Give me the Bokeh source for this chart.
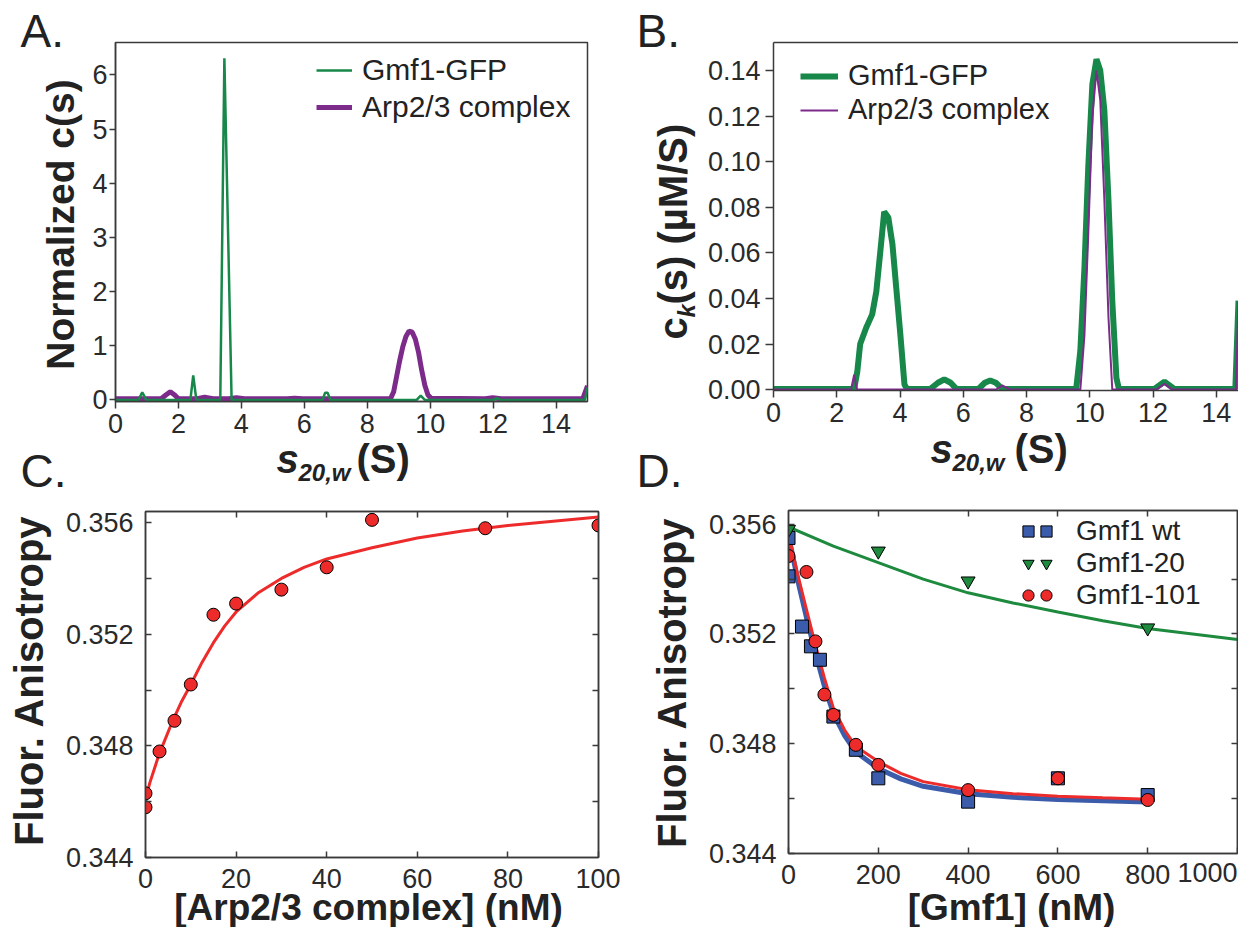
from math import pi
from bokeh.plotting import figure
from bokeh.layouts import row, column
from bokeh.models import (Range1d, LinearAxis, FixedTicker, PrintfTickFormatter,
                          CustomJSTickFormatter, Legend, LegendItem, GridBox)
from bokeh.core.properties import value
from bokeh.embed import file_html
from bokeh.resources import INLINE

# ---------------- data ----------------
# Panel A: normalized c(s)
a_gfp_s = [0, 0.73, 0.85, 0.98, 2.38, 2.47, 2.57, 3.33, 3.46, 3.69, 6.58, 6.66, 6.74, 6.83,
           9.57, 9.70, 9.83, 12.0, 12.12, 12.24, 14.92, 15.0]
a_gfp_c = [0, 0, 0.14, 0, 0, 0.45, 0, 0, 6.31, 0, 0, 0.13, 0.13, 0,
           0, 0.08, 0, 0, 0.03, 0, 0, 0.23]
a_arp_s = [0, 1.45, 1.6, 1.74, 1.88, 2.0, 2.6, 2.83, 3.1, 3.6, 3.84, 4.1, 5.45, 5.69, 5.95,
           8.74, 8.84, 8.93, 9.03, 9.13, 9.23, 9.33, 9.43, 9.53, 9.63, 9.73, 9.83, 9.93, 10.03,
           11.75, 11.99, 12.25, 14.85, 15.0]
a_arp_c = [0.02, 0.02, 0.09, 0.15, 0.09, 0.02, 0.02, 0.05, 0.02, 0.02, 0.04, 0.02, 0.02, 0.03, 0.02,
           0.02, 0.15, 0.42, 0.72, 0.98, 1.17, 1.27, 1.25, 1.12, 0.88, 0.55, 0.27, 0.09, 0.03,
           0.02, 0.04, 0.02, 0.02, 0.26]

# Panel B: ck(s)
b_gfp_s = [0, 2.55, 2.65, 2.74, 2.93, 3.12, 3.25, 3.38, 3.50, 3.63, 3.76, 3.88, 4.01, 4.14, 4.22,
           4.96, 5.2, 5.40, 5.6, 5.78, 6.48, 6.68, 6.85, 7.03, 7.23,
           9.57, 9.70, 9.83, 9.95, 10.08, 10.21, 10.33, 10.46, 10.59, 10.71, 10.84, 10.92,
           12.04, 12.36, 12.67, 14.6, 14.7]
b_gfp_c = [0.0003, 0.0003, 0.008, 0.02, 0.0271, 0.033, 0.043, 0.061, 0.078, 0.0755, 0.0638, 0.0447,
           0.0242, 0.0022, 0.0003,
           0.0003, 0.003, 0.0045, 0.003, 0.0003, 0.0003, 0.003, 0.004, 0.003, 0.0003,
           0.0003, 0.017, 0.0535, 0.0975, 0.134, 0.145, 0.14, 0.1224, 0.0828, 0.0389, 0.0051, 0.0003,
           0.0003, 0.0035, 0.0003, 0.0003, 0.039]
b_arp_s = [0, 2.45, 2.55, 2.64, 7.04, 7.23, 7.49, 9.70, 9.83, 9.95, 10.08, 10.21, 10.33, 10.46,
           10.59, 10.71, 12.1, 12.36, 12.6, 14.62, 14.7]
b_arp_c = [0, 0, 0.0065, 0, 0, 0.0018, 0, 0, 0.024, 0.068, 0.12, 0.14, 0.127, 0.083,
           0.0315, 0, 0, 0.0025, 0, 0, 0.039]

# Panel C: anisotropy vs [Arp2/3]
c_conc = [0, 0, 3.1, 6.4, 10, 15, 20, 30, 40, 50, 75, 100]
c_anis = [0.3463, 0.3458, 0.3478, 0.3489, 0.3502, 0.3527, 0.3531, 0.3536, 0.3544, 0.3561, 0.3558, 0.3559]
c_fit_x = [0, 1, 2, 3, 4, 6, 8, 10, 12.5, 15, 17.5, 20, 25, 30, 35, 40, 50, 60, 70, 80, 90, 100]
c_fit_y = [0.3461, 0.3467, 0.3472, 0.3477, 0.3481, 0.3489, 0.3496, 0.3502, 0.3510, 0.3517, 0.3523,
           0.3528, 0.3535, 0.3540, 0.3544, 0.3547, 0.3551, 0.35545, 0.3557, 0.3559, 0.35605, 0.3562]

# Panel D: anisotropy vs [Gmf1]
d_wt_x = [0, 0, 30, 50, 70, 100, 150, 200, 400, 600, 800]
d_wt_y = [0.3555, 0.3541, 0.35227, 0.35155, 0.35106, 0.34899, 0.34778, 0.34674, 0.34589, 0.34674, 0.34613]
d_20_x = [0, 200, 400, 800]
d_20_y = [0.35581, 0.35502, 0.35393, 0.35222]
d_101_x = [0, 40, 60, 80, 100, 150, 200, 400, 600, 800]
d_101_y = [0.35484, 0.35426, 0.35173, 0.34979, 0.34905, 0.34796, 0.34723, 0.34631, 0.34674, 0.34595]
d_fit_x = [0, 20, 40, 60, 80, 100, 125, 150, 200, 250, 300, 400, 500, 600, 700, 800]
d_fit_wt = [0.3556, 0.3540, 0.3526, 0.3513, 0.3501, 0.3491, 0.3483, 0.3477, 0.3471, 0.34672, 0.34645,
            0.34618, 0.34605, 0.34597, 0.34592, 0.34588]
d_fit_101 = [0.35563, 0.3542, 0.3529, 0.3516, 0.3504, 0.3493, 0.3485, 0.3479, 0.34735, 0.34692, 0.34662,
             0.34632, 0.34618, 0.34609, 0.34603, 0.34598]
d_fit20_x = [0, 100, 200, 300, 400, 500, 600, 700, 800, 900, 1000]
d_fit20_y = [0.3559, 0.3552, 0.3546, 0.3540, 0.3535, 0.35313, 0.3528, 0.35248, 0.3522, 0.3520, 0.3518]

# ---------------- style ----------------
FONT = "Liberation Sans"
AX = "#3a3a3a"
TXT = "#222222"
TICK_TXT = "#2a2a2a"
GREEN = "#17884a"
PURPLE = "#7d2b8b"
RED = "#ee2b2b"
BLUE = "#3b5bab"
DGREEN = "#1e8a3e"
W, H = 1238, 927
NO_LABELS = CustomJSTickFormatter(code="return ''")


def make_fig(w, h, left, right, top, bottom, xr, yr, outline=True):
    p = figure(width=w, height=h, min_border_left=left, min_border_right=right,
               min_border_top=top, min_border_bottom=bottom,
               x_range=Range1d(*xr), y_range=Range1d(*yr),
               output_backend="svg", toolbar_location=None, tools="")
    p.xgrid.visible = False
    p.ygrid.visible = False
    p.background_fill_color = "white"
    p.border_fill_color = "white"
    if outline:
        p.outline_line_color = AX
        p.outline_line_width = 1.5
    else:
        p.outline_line_color = None
    return p


def style_axis(ax, ticks, minor=None, tin=0, tout=7, labels=True, fmt=None, standoff=3):
    ax.ticker = FixedTicker(ticks=ticks, minor_ticks=minor or [])
    ax.major_tick_in = tin
    ax.major_tick_out = tout
    ax.minor_tick_in = tin
    ax.minor_tick_out = tout
    ax.axis_line_color = AX
    ax.axis_line_width = 1.5
    ax.major_tick_line_color = AX
    ax.major_tick_line_width = 1.5
    ax.minor_tick_line_color = AX if minor else None
    ax.minor_tick_line_width = 1.5
    ax.major_label_text_font = FONT
    ax.major_label_text_color = TICK_TXT
    ax.major_label_text_font_size = "27px"
    ax.major_label_standoff = standoff
    if fmt:
        ax.formatter = PrintfTickFormatter(format=fmt)
    if not labels:
        ax.formatter = NO_LABELS
        ax.major_label_text_font_size = "8px"
        ax.major_label_standoff = 0


def legend(p, items, loc, gw, gh, spacing, standoff, size):
    lg = Legend(items=items, location=loc, orientation="vertical", padding=0, margin=0,
                spacing=spacing, glyph_width=gw, glyph_height=gh, label_height=gh,
                label_standoff=standoff, label_text_font=FONT,
                label_text_font_size=f"{size}px", label_text_color=TXT,
                border_line_color=None, background_fill_alpha=0)
    p.add_layout(lg)


# ---------------- panel A ----------------
pA = make_fig(620, 492, 115, 33, 42, 91, (0, 15), (-0.03, 6.6))
style_axis(pA.xaxis[0], list(range(0, 15, 2)), tout=7, standoff=5)
style_axis(pA.yaxis[0], list(range(0, 7)), tout=6, standoff=2)
rA_arp = pA.line(a_arp_s, a_arp_c, line_color=PURPLE, line_width=5)
rA_gfp = pA.line(a_gfp_s, a_gfp_c, line_color=GREEN, line_width=2.5)
legend(pA, [LegendItem(label="Gmf1-GFP", renderers=[rA_gfp]),
            LegendItem(label="Arp2/3 complex", renderers=[rA_arp])],
       (201, 277), 36, 34, 3, 10, 30)

# ---------------- panel B ----------------
pB = make_fig(618, 492, 153, 0, 42, 102, (0, 14.7), (-0.0004, 0.1523), outline=False)
style_axis(pB.xaxis[0], list(range(0, 15, 2)), tout=7, standoff=5)
style_axis(pB.yaxis[0], [0, 0.02, 0.04, 0.06, 0.08, 0.10, 0.12, 0.14], tout=8, standoff=5, fmt="%.2f")
topB = LinearAxis()
pB.add_layout(topB, "above")
style_axis(topB, [], tout=0, labels=False)
rB_gfp = pB.line(b_gfp_s, b_gfp_c, line_color=GREEN, line_width=6)
rB_arp = pB.line(b_arp_s, b_arp_c, line_color=PURPLE, line_width=2)
legend(pB, [LegendItem(label="Gmf1-GFP", renderers=[rB_gfp]),
            LegendItem(label="Arp2/3 complex", renderers=[rB_arp])],
       (27, 264), 38, 32, 1, 10, 29)

# ---------------- panel C ----------------
pC = make_fig(620, 435, 145, 22, 19, 70, (0, 100), (0.344, 0.3564))
style_axis(pC.xaxis[0], [0, 20, 40, 60, 80, 100], tin=6, tout=0, standoff=11)
style_axis(pC.yaxis[0], [0.344, 0.348, 0.352, 0.356], minor=[0.346, 0.350, 0.354],
           tin=6, tout=0, standoff=12, fmt="%.3f")
topC = LinearAxis()
pC.add_layout(topC, "above")
style_axis(topC, [20, 40, 60, 80], tin=6, tout=0, labels=False)
rightC = LinearAxis()
pC.add_layout(rightC, "right")
style_axis(rightC, [0.346, 0.348, 0.350, 0.352, 0.354], tin=6, tout=0, labels=False)
pC.line(c_fit_x, c_fit_y, line_color=RED, line_width=3)
pC.scatter(c_conc, c_anis, marker="circle", size=13, fill_color=RED, line_color="black", line_width=1)

# ---------------- panel D ----------------
pD = make_fig(618, 435, 168, 1, 18, 74, (0, 1000), (0.344, 0.3565))
style_axis(pD.xaxis[0], [0, 200, 400, 600, 800, 1000], tin=6, tout=0, standoff=11)
pD.xaxis[0].major_label_overrides = {1000: ""}
style_axis(pD.yaxis[0], [0.344, 0.348, 0.352, 0.356], minor=[0.346, 0.350, 0.354],
           tin=6, tout=0, standoff=12, fmt="%.3f")
topD = LinearAxis()
pD.add_layout(topD, "above")
style_axis(topD, [200, 400, 600, 800], tin=6, tout=0, labels=False)
rightD = LinearAxis()
pD.add_layout(rightD, "right")
style_axis(rightD, [0.346, 0.348, 0.350, 0.352, 0.354], tin=6, tout=0, labels=False)
pD.line(d_fit20_x, d_fit20_y, line_color=DGREEN, line_width=3)
pD.line(d_fit_x, d_fit_wt, line_color=BLUE, line_width=5)
pD.line(d_fit_x, d_fit_101, line_color=RED, line_width=3)
rD_wt = pD.scatter(d_wt_x, d_wt_y, marker="square", size=13, fill_color=BLUE, line_color="black", line_width=1)
rD_20 = pD.scatter(d_20_x, d_20_y, marker="inverted_triangle", size=14, fill_color=DGREEN,
                   line_color="black", line_width=1)
rD_101 = pD.scatter(d_101_x, d_101_y, marker="circle", size=13, fill_color=RED, line_color="black", line_width=1)
legend(pD, [LegendItem(label=" ", renderers=[rD_wt]),
            LegendItem(label=" ", renderers=[rD_20]),
            LegendItem(label=" ", renderers=[rD_101])],
       (226, 242), 28, 32, 0, 0, 28)
legend(pD, [LegendItem(label="Gmf1 wt", renderers=[rD_wt]),
            LegendItem(label="Gmf1-20", renderers=[rD_20]),
            LegendItem(label="Gmf1-101", renderers=[rD_101])],
       (244, 242), 28, 32, 0, 16, 28)

# ---------------- text overlay (axis titles, panel letters) ----------------
pT = figure(width=W, height=H, x_range=Range1d(0, W), y_range=Range1d(0, H),
            x_axis_type=None, y_axis_type=None, output_backend="svg",
            toolbar_location=None, tools="", min_border=0)
pT.min_border_left = pT.min_border_right = pT.min_border_top = pT.min_border_bottom = 0
pT.outline_line_color = None
pT.background_fill_color = None
pT.border_fill_color = None
pT.xgrid.visible = False
pT.ygrid.visible = False

SHIFT = 0.35  # compensation (in em) for where the glyph baseline lands


def txt(x, y, s, size, style="bold", angle=0.0, align="left", color=TXT):
    if angle:
        x = x - SHIFT * size
    else:
        y = y - SHIFT * size
    pT.text(x=[x], y=[H - y], text=[s], text_font=value(FONT), text_font_size=value(f"{size}px"),
            text_font_style=value(style), angle=value(angle), text_align=value(align),
            text_baseline=value("alphabetic"), text_color=value(color))


# panel letters
txt(20, 47, "A.", 46, style="normal")
txt(636, 47, "B.", 46, style="normal")
txt(20, 487, "C.", 46, style="normal")
txt(636, 487, "D.", 46, style="normal")
# panel A titles
txt(74, 224, "Normalized c(s)", 39, angle=pi / 2, align="center")
txt(276, 472, "s", 40, style="bold italic")
txt(298, 480, "20,w", 24, style="bold italic")
txt(356, 472, "(S)", 40)
# panel B titles
txt(686, 339, "c", 40, angle=pi / 2)
txt(694, 317, "k", 24, style="bold italic", angle=pi / 2)
txt(686, 304, "(s) (\u00b5M/S)", 40, angle=pi / 2)
txt(930, 462, "s", 40, style="bold italic")
txt(952, 470, "20,w", 24, style="bold italic")
txt(1014, 462, "(S)", 40)
# panel C titles
txt(42, 680, "Fluor. Anisotropy", 40, angle=pi / 2, align="center")
txt(368, 920, "[Arp2/3 complex] (nM)", 37, align="center")
# panel D titles
txt(685, 682, "Fluor. Anisotropy", 40, angle=pi / 2, align="center")
txt(1011, 920, "[Gmf1] (nM)", 37, align="center")
txt(1237, 881, "1000", 27, style="normal", align="right", color=TICK_TXT)

plots = column(row(column(pA), column(pB), spacing=0),
               row(column(pC), column(pD), spacing=0), spacing=0)
layout = GridBox(children=[(plots, 0, 0), (pT, 0, 0)])
open("out.html", "w").write(file_html(layout, INLINE))
